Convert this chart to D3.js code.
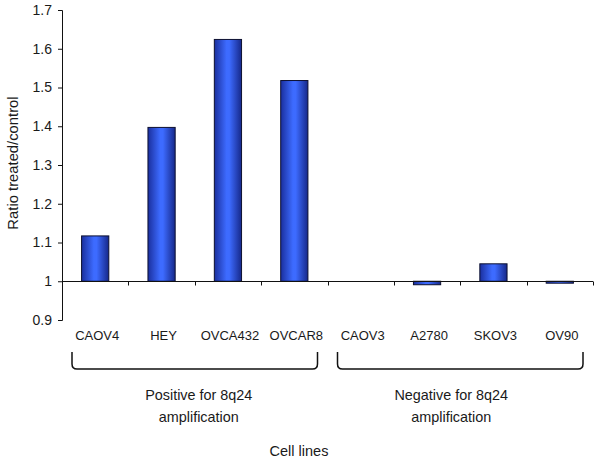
<!DOCTYPE html>
<html>
<head>
<meta charset="utf-8">
<script src="https://cdn.jsdelivr.net/npm/d3@7"></script>
<style>
  html, body { margin: 0; padding: 0; background: #fff; }
  svg { display: block; font-family: "Liberation Sans", Arial, sans-serif; }
</style>
</head>
<body>
<svg id="chart" width="600" height="460"></svg>
<script>
const categories = ["CAOV4", "HEY", "OVCA432", "OVCAR8", "CAOV3", "A2780", "SKOV3", "OV90"];
const values = [1.117, 1.397, 1.624, 1.518, 1.0, 0.991, 1.045, 0.995];
const yTicks = [0.9, 1, 1.1, 1.2, 1.3, 1.4, 1.5, 1.6, 1.7];
const groupNames = [["Positive for 8q24", "amplification"], ["Negative for 8q24", "amplification"]];
const groupStart = ["CAOV4", "CAOV3"];
const groupEnd = ["OVCAR8", "OV90"];
const yTitle = "Ratio treated/control";
const xTitle = "Cell lines";

(function () {
const svg = d3.select("#chart");
const textColor = "#1a1a1a";

const x = d3.scaleBand().domain(categories).range([62, 593]).padding(0);
const y = d3.scaleLinear().domain([0.9, 1.7]).range([320, 10]);
const bw = x.bandwidth();
const barW = bw * 0.41;

// gradient
const defs = svg.append("defs");
const grad = defs.append("linearGradient").attr("id", "barGrad")
  .attr("x1", "0%").attr("x2", "100%").attr("y1", "0%").attr("y2", "0%");
grad.append("stop").attr("offset", "0%").attr("stop-color", "#1a2f9e");
grad.append("stop").attr("offset", "45%").attr("stop-color", "#3d6bff");
grad.append("stop").attr("offset", "55%").attr("stop-color", "#3d6bff");
grad.append("stop").attr("offset", "100%").attr("stop-color", "#16288a");

// y axis
const yAxis = d3.axisLeft(y).tickValues(yTicks).tickSize(4).tickPadding(6)
  .tickFormat(d => d3.format("")(+d.toFixed(1)));
const gy = svg.append("g").attr("transform", "translate(62,0)").call(yAxis);
gy.select(".domain").attr("stroke", "#111").attr("d", "M-4,10.5H0.5V320.5H-4");
gy.selectAll(".tick line").attr("stroke", "#111");
gy.selectAll(".tick text").attr("fill", textColor).style("font-size", "14px")
  .style("font-family", "Liberation Sans, Arial, sans-serif");

// bars
svg.append("g").selectAll("rect").data(categories).join("rect")
  .attr("x", d => x(d) + (bw - barW) / 2)
  .attr("y", (d, i) => y(Math.max(values[i], 1)))
  .attr("width", barW)
  .attr("height", (d, i) => Math.abs(y(values[i]) - y(1)))
  .attr("fill", "url(#barGrad)")
  .attr("stroke", "#0d1030")
  .attr("stroke-width", 1);

// category axis at y = 1
const y1 = Math.round(y(1)) + 0.5;
svg.append("line").attr("x1", 62).attr("x2", 593).attr("y1", y1).attr("y2", y1)
  .attr("stroke", "#111").attr("stroke-width", 1);
svg.append("g").selectAll("line").data(categories).join("line")
  .attr("x1", d => Math.round(x(d) + bw) + 0.5)
  .attr("x2", d => Math.round(x(d) + bw) + 0.5)
  .attr("y1", y1).attr("y2", y1 + 4)
  .attr("stroke", "#111");

// category labels
svg.append("g").selectAll("text").data(categories).join("text")
  .attr("x", d => x(d) + bw / 2 + 2)
  .attr("y", 340)
  .attr("text-anchor", "middle")
  .attr("fill", textColor)
  .style("font-size", "13px")
  .text(d => d);

// brackets
const inset = 10, bTop = 352, bBot = 369, r = 5;
groupStart.forEach((s, i) => {
  const x0 = x(s) + inset;
  const x1 = x(groupEnd[i]) + bw - inset;
  svg.append("path")
    .attr("d", `M${x0},${bTop} V${bBot - r} Q${x0},${bBot} ${x0 + r},${bBot} H${x1 - r} Q${x1},${bBot} ${x1},${bBot - r} V${bTop}`)
    .attr("fill", "none").attr("stroke", "#111").attr("stroke-width", 1.5);
  const cx = (x0 + x1) / 2 + (i === 0 ? 4 : -9);
  const t = svg.append("text").attr("text-anchor", "middle").attr("fill", textColor)
    .style("font-size", "14.4px");
  groupNames[i].forEach((line, j) => {
    t.append("tspan").attr("x", cx).attr("y", 400 + j * 22).text(line);
  });
});

// axis titles
svg.append("text").attr("transform", "translate(18,163) rotate(-90)")
  .attr("text-anchor", "middle").attr("fill", textColor).style("font-size", "14.8px")
  .text(yTitle);
svg.append("text").attr("x", 299).attr("y", 456).attr("text-anchor", "middle")
  .attr("fill", textColor).style("font-size", "14.5px").text(xTitle);
})();
</script>
</body>
</html>
